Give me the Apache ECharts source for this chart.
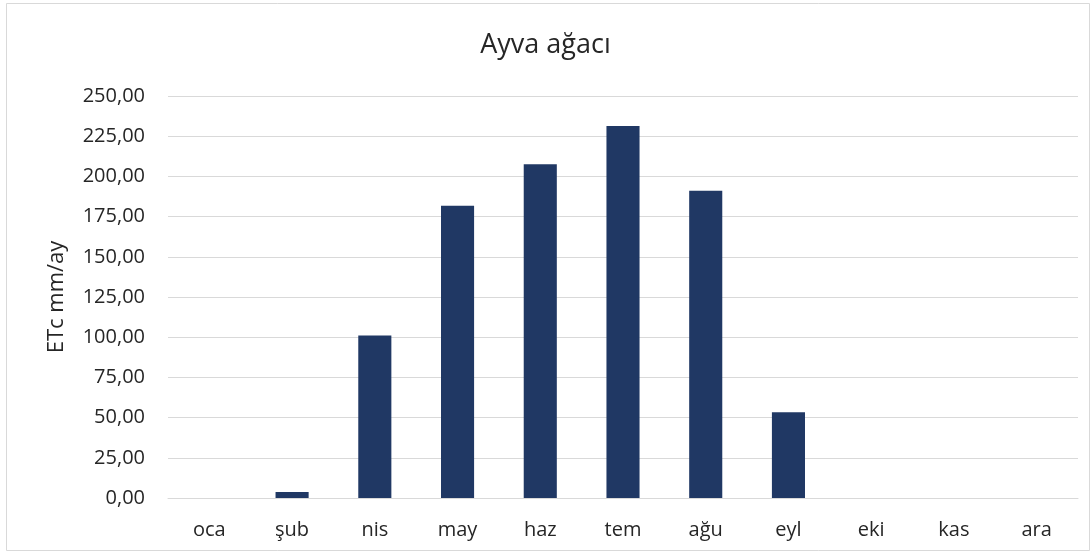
<!DOCTYPE html>
<html>
<head>
<meta charset="utf-8">
<script src="https://cdn.jsdelivr.net/npm/echarts@6/dist/echarts.min.js"></script>
<style>
  html, body { margin: 0; padding: 0; background: #fff; }
  #chart { width: 1091px; height: 552px; }
</style>
</head>
<body>
<div id="chart"></div>
<script>
// aylar ve ETc değerleri (mm/ay)
var months = ['oca', 'şub', 'nis', 'may', 'haz', 'tem', 'ağu', 'eyl', 'eki', 'kas', 'ara'];
var etc = [0, 3.7, 101.0, 181.7, 207.6, 231.4, 191.0, 53.4, 0, 0, 0];
var yTicks = { min: 0, max: 250, step: 25 };

var font = 'Open Sans';
var chart = echarts.init(document.getElementById('chart'));

var option = {
    animation: false,
    backgroundColor: '#fff',
    title: {
        text: 'Ayva ağacı',
        left: 'center',
        top: 27,
        textStyle: { fontFamily: font, fontSize: 27, fontWeight: 'normal', color: '#262626' }
    },
    graphic: [{
        type: 'rect',
        shape: { x: 6.5, y: 3.5, width: 1083, height: 547 },
        style: { fill: 'none', stroke: '#d9d9d9', lineWidth: 1 },
        silent: true
    }],
    grid: { left: 168, right: 13, top: 96, bottom: 54 },
    xAxis: {
        type: 'category',
        data: months,
        axisLine: { lineStyle: { color: '#d9d9d9', width: 1 } },
        axisTick: { show: false },
        axisLabel: { fontFamily: font, fontSize: 20, color: '#262626', margin: 22 }
    },
    yAxis: {
        type: 'value',
        min: yTicks.min,
        max: yTicks.max,
        interval: yTicks.step,
        name: 'ETc mm/ay',
        nameLocation: 'middle',
        nameGap: 100,
        nameTextStyle: { fontFamily: font, fontSize: 22, color: '#262626' },
        axisLine: { show: false },
        axisTick: { show: false },
        splitLine: { lineStyle: { color: '#d9d9d9', width: 1 } },
        axisLabel: {
            fontFamily: font, fontSize: 20, color: '#262626', margin: 23,
            formatter: function (v) { return v.toFixed(2).replace('.', ','); }
        }
    },
    series: [{
        type: 'bar',
        data: etc,
        barWidth: '40%',
        itemStyle: { color: '#203864' }
    }]
};
chart.setOption(option);
</script>
</body>
</html>
